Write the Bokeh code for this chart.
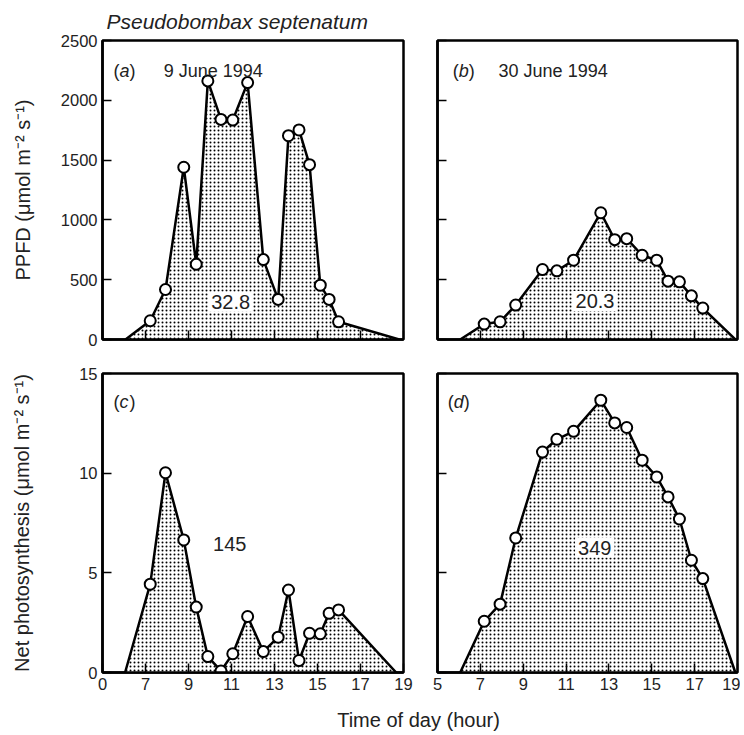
from bokeh.plotting import figure
from bokeh.layouts import column, row
from bokeh.models import Range1d, FixedTicker, Label
from bokeh.embed import file_html
from bokeh.resources import INLINE

FONT = "Liberation Sans"

# ---------------- data ----------------
hours_jun9 = [7.22, 7.93, 8.78, 9.36, 9.90, 10.51, 11.06, 11.75, 12.48, 13.17,
              13.65, 14.14, 14.63, 15.13, 15.54, 15.98]
hours_jun30 = [7.18, 7.92, 8.65, 9.90, 10.57, 11.35, 12.62, 13.27, 13.83, 14.55,
               15.23, 15.76, 16.29, 16.85, 17.38]

ppfd_jun9 = [157, 418, 1440, 629, 2162, 1840, 1835, 2148, 668, 335,
             1704, 1752, 1462, 454, 335, 148]
ppfd_jun30 = [129, 148, 288, 585, 574, 663, 1060, 835, 843, 704,
              663, 488, 482, 365, 263]
pn_jun9 = [4.43, 10.02, 6.65, 3.28, 0.80, 0.08, 0.94, 2.81, 1.05, 1.77,
           4.14, 0.60, 1.97, 1.94, 2.97, 3.14]
pn_jun30 = [2.57, 3.43, 6.75, 11.06, 11.70, 12.10, 13.66, 12.52, 12.29, 10.65,
            9.81, 8.81, 7.70, 5.63, 4.71]

# sunrise / sunset ends of each filled curve (value 0)
ends_a = [6.07, 18.80]
ends_b = [6.06, 18.90]
ends_c = [6.05, 18.66]
ends_d = [6.06, 18.90]

integrals = ["32.8", "20.3", "145", "349"]
panel_letters = ["a", "b", "c", "d"]
dates = ["9 June 1994", "30 June 1994"]

x_ticks = [5, 7, 9, 11, 13, 15, 17, 19]
ppfd_ticks = [0, 500, 1000, 1500, 2000, 2500]
pn_ticks = [0, 5, 10, 15]


def make_panel(width, height, ymax, yticks, left, right, top, bottom,
               show_x, show_y, first_label=None, ylabel=None, ylabel_standoff=0):
    p = figure(width=width, height=height, x_range=Range1d(5, 19),
               y_range=Range1d(0, ymax), output_backend="svg",
               toolbar_location=None, min_border_left=left, min_border_right=right,
               min_border_top=top, min_border_bottom=bottom)
    p.grid.visible = False
    p.background_fill_color = "white"
    p.border_fill_color = "white"
    p.outline_line_color = "black"
    p.outline_line_width = 2.5
    for ax in (p.xaxis[0], p.yaxis[0]):
        ax.axis_line_width = 2.5
        ax.axis_line_color = "black"
        ax.major_tick_in = 9
        ax.major_tick_out = 0
        ax.major_tick_line_width = 1.5
        ax.minor_tick_line_color = None
        ax.major_label_text_font = FONT
        ax.major_label_text_font_size = "16.5px"
        ax.major_label_text_color = "#222222"
        ax.major_label_standoff = 5
    p.xaxis.ticker = FixedTicker(ticks=x_ticks)
    p.yaxis.ticker = FixedTicker(ticks=yticks)
    if not show_x:
        p.xaxis.major_label_text_font_size = "1px"
        p.xaxis.major_label_text_color = None
        p.xaxis.major_label_standoff = 0
    elif first_label is not None:
        p.xaxis.major_label_overrides = {5: first_label}
    if not show_y:
        p.yaxis.major_label_text_font_size = "1px"
        p.yaxis.major_label_text_color = None
        p.yaxis.major_label_standoff = 0
    if ylabel:
        p.yaxis.axis_label = ylabel
        p.yaxis.axis_label_text_font = FONT
        p.yaxis.axis_label_text_font_size = "20px"
        p.yaxis.axis_label_text_font_style = "normal"
        p.yaxis.axis_label_text_color = "#222222"
        p.yaxis.axis_label_standoff = ylabel_standoff
    return p


def draw_curve(p, hours, vals, ends):
    xs = [ends[0]] + hours + [ends[1]]
    ys = [0] + vals + [0]
    p.patch(xs, ys, fill_color="white", line_color=None,
            hatch_pattern="dot", hatch_scale=4, hatch_weight=1.7,
            hatch_color="black")
    p.line(xs, ys, line_color="black", line_width=2.5)
    p.scatter(hours, vals, size=11, fill_color="white", line_color="black",
              line_width=2)


def panel_letter(p, x, y, letter):
    common = dict(text_font=FONT, text_font_size="18px", text_color="#222222",
                  text_baseline="alphabetic")
    p.add_layout(Label(x=x, y=y, text="(", text_font_style="normal", **common))
    p.add_layout(Label(x=x, y=y, x_offset=6, text=letter,
                       text_font_style="italic", **common))
    p.add_layout(Label(x=x, y=y, x_offset=16, text=")", text_font_style="normal",
                       **common))


def value_label(p, x, y, text, box=True):
    kw = dict(x=x, y=y, text=text, text_font=FONT, text_font_size="20px",
              text_color="#222222", text_align="center", text_baseline="middle")
    if box:
        kw.update(background_fill_color="white", padding=3)
    p.add_layout(Label(**kw))


# ---------------- layout ----------------
fa = make_panel(420, 356, 2500, ppfd_ticks, 102, 17, 39, 17, False, True,
                ylabel="PPFD (\u03bcmol m\u207b\u00b2 s\u207b\u00b9)", ylabel_standoff=24)
fb = make_panel(320, 356, 2500, ppfd_ticks, 17, 3, 39, 17, False, False)
fc = make_panel(420, 346, 15, pn_ticks, 102, 17, 17, 30, True, True, first_label="0",
                ylabel="Net photosynthesis (\u03bcmol m\u207b\u00b2 s\u207b\u00b9)",
                ylabel_standoff=43)
fd = make_panel(320, 346, 15, pn_ticks, 17, 3, 17, 30, True, False, first_label="5")

fa.title.text = "Pseudobombax septenatum"
fa.title.text_font = FONT
fa.title.text_font_size = "21px"
fa.title.text_font_style = "italic"
fa.title.text_color = "#222222"
fa.title.align = "left"
fa.title.offset = 4
fa.title.standoff = 15

draw_curve(fa, hours_jun9, ppfd_jun9, ends_a)
draw_curve(fb, hours_jun30, ppfd_jun30, ends_b)
draw_curve(fc, hours_jun9, pn_jun9, ends_c)
draw_curve(fd, hours_jun30, pn_jun30, ends_d)

panel_letter(fa, 5.51, 2246, panel_letters[0])
panel_letter(fb, 5.71, 2246, panel_letters[1])
panel_letter(fc, 5.51, 13.58, panel_letters[2])
panel_letter(fd, 5.48, 13.58, panel_letters[3])

for p, txt in ((fa, dates[0]), (fb, dates[1])):
    p.add_layout(Label(x=7.85, y=2246, text=txt, text_font=FONT,
                       text_font_size="18px", text_color="#222222",
                       text_baseline="alphabetic"))

value_label(fa, 10.96, 315, integrals[0])
value_label(fb, 12.35, 321, integrals[1])
value_label(fc, 10.92, 6.44, integrals[2], box=False)
value_label(fd, 12.34, 6.27, integrals[3])

# x-axis title strip
fx = figure(width=740, height=32, x_range=Range1d(0, 740), y_range=Range1d(0, 32),
            output_backend="svg", toolbar_location=None, min_border=0)
fx.axis.visible = False
fx.grid.visible = False
fx.outline_line_color = None
fx.add_layout(Label(x=418, y=15, text="Time of day (hour)", text_font=FONT,
                    text_font_size="20px", text_color="#222222",
                    text_align="center", text_baseline="middle"))

layout = column(row(fa, fb), row(fc, fd), fx, spacing=0)

open("out.html", "w").write(file_html(layout, INLINE))
